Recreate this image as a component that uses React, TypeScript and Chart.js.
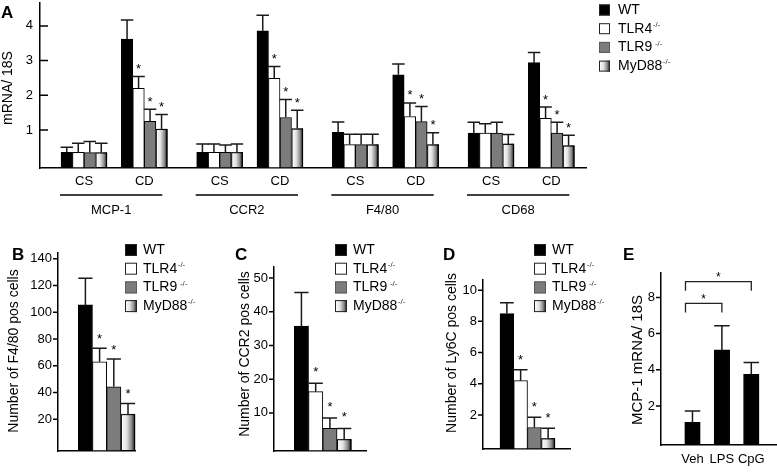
import React, { useEffect, useRef } from "react";
import { Chart, registerables } from "chart.js";

Chart.register(...registerables);

const PAGE_W = 777;
const PAGE_H = 472;
const FONT = "'Liberation Sans', Arial, Helvetica, sans-serif";

// ---------- shared series ----------
const seriesNames = ["WT", "TLR4", "TLR9", "MyD88"];
const seriesSup = ["", "-/-", " -/-", "-/-"];
const seriesFill = ["#000000", "#ffffff", "#7c7c7c", "gradient"];

// ---------- Panel A ----------
const groupsA = ["MCP-1", "CCR2", "F4/80", "CD68"];
const conditionsA = ["CS", "CD"];
const yTicksA = [1, 2, 3, 4];
// order: MCP-1 CS, MCP-1 CD, CCR2 CS, CCR2 CD, F4/80 CS, F4/80 CD, CD68 CS, CD68 CD
const wtA = [0.36, 3.62, 0.36, 3.86, 0.93, 2.59, 0.91, 2.94];
const wtErrA = [0.14, 0.55, 0.24, 0.45, 0.3, 0.31, 0.31, 0.29];
const tlr4A = [0.36, 2.2, 0.36, 2.49, 0.58, 1.39, 0.91, 1.34];
const tlr4ErrA = [0.26, 0.34, 0.24, 0.34, 0.3, 0.39, 0.27, 0.32];
const tlr9A = [0.35, 1.25, 0.36, 1.36, 0.58, 1.24, 0.91, 0.91];
const tlr9ErrA = [0.32, 0.35, 0.21, 0.52, 0.3, 0.44, 0.31, 0.31];
const myd88A = [0.35, 1.03, 0.36, 1.04, 0.58, 0.58, 0.6, 0.55];
const myd88ErrA = [0.27, 0.42, 0.24, 0.53, 0.3, 0.34, 0.27, 0.3];
const starsKoA = [false, true, false, true, false, true, false, true];
const noStarsA = [false, false, false, false, false, false, false, false];

// ---------- Panel B (F4/80 pos cells) ----------
const yTicksB = [20, 40, 60, 80, 100, 120, 140];
const valuesB = [105.5, 63, 44.3, 23.8];
const errorsB = [20, 10, 20.7, 8];
const starsB = [false, true, true, true];

// ---------- Panel C (CCR2 pos cells) ----------
const yTicksC = [10, 20, 30, 40, 50];
const valuesC = [35.8, 16.3, 5.4, 2.2];
const errorsC = [9.9, 2.5, 3.1, 3.2];
const starsC = [false, true, true, true];

// ---------- Panel D (Ly6C pos cells) ----------
const yTicksD = [2, 4, 6, 8, 10];
const valuesD = [8.5, 4.2, 1.2, 0.5];
const errorsD = [0.7, 0.7, 0.65, 0.65];
const starsD = [false, true, true, true];

// ---------- Panel E (MCP-1 mRNA) ----------
const categoriesE = ["Veh", "LPS", "CpG"];
const yTicksE = [2, 4, 6, 8];
const valuesE = [1.1, 5.1, 3.75];
const errorsE = [0.62, 1.33, 0.66];
const comparisonsE = [
  { from: 0, to: 1 },
  { from: 0, to: 2 },
];

type Series = { label: string; fill: string; values: number[]; errors: number[]; stars: boolean[] };
type Area = { left: number; top: number; right: number; bottom: number };
type PanelCfg = {
  letter: string;
  letterPos: [number, number];
  area: Area;
  xMin: number;
  xMax: number;
  xPos: number[];
  xLabels: string[] | null;
  xLabelPad: number;
  yMin: number;
  yMax: number;
  yTicks: number[];
  yLabelPad: number;
  tickDir: number;
  tickLen: number;
  title: string;
  titlePos: [number, number];
  titleSize: number;
  series: Series[];
  barThickness: number;
  capExtra: number;
  starGap: number;
  legend: { x: number; y: number; dy: number; box: number; gap: number } | null;
  groups?: { names: string[]; lineY: number; textY: number; padL: number; padR: number };
  brackets?: { from: number; to: number; level: number }[];
};

function fourSeries(vals: number[][], errs: number[][], stars: boolean[][]): Series[] {
  return seriesNames.map((n, i) => ({ label: n, fill: seriesFill[i], values: vals[i], errors: errs[i], stars: stars[i] }));
}

// category positions along the linear x axis of panel A (pairs CS/CD, wider gap between markers)
const posA = groupsA.flatMap((_, g) => conditionsA.map((__, c) => g * 2.25 + c));

const panels: PanelCfg[] = [
  {
    letter: "A",
    letterPos: [1, 17.5],
    area: { left: 40, top: 3, right: 586, bottom: 168 },
    xMin: -0.73,
    xMax: 8.325,
    xPos: posA,
    xLabels: groupsA.flatMap(() => conditionsA),
    xLabelPad: 6,
    yMin: -0.095,
    yMax: 4.66,
    yTicks: yTicksA,
    yLabelPad: 7,
    tickDir: 1,
    tickLen: 8,
    title: "mRNA/ 18S",
    titlePos: [8, 88],
    titleSize: 14,
    series: fourSeries(
      [wtA, tlr4A, tlr9A, myd88A],
      [wtErrA, tlr4ErrA, tlr9ErrA, myd88ErrA],
      [noStarsA, starsKoA, starsKoA, starsKoA]
    ),
    barThickness: 11.5,
    capExtra: 1,
    starGap: 10.5,
    legend: { x: 599, y: 10, dy: 18.7, box: 11, gap: 8 },
    groups: { names: groupsA, lineY: 195, textY: 210, padL: 24, padR: 18 },
  },
  {
    letter: "B",
    letterPos: [12, 260],
    area: { left: 58, top: 253, right: 135, bottom: 451 },
    xMin: -0.487,
    xMax: 0.283,
    xPos: [0],
    xLabels: null,
    xLabelPad: 6,
    yMin: -3.75,
    yMax: 144.3,
    yTicks: yTicksB,
    yLabelPad: 6,
    tickDir: -1,
    tickLen: 5,
    title: "Number of F4/80 pos cells",
    titlePos: [14.5, 351],
    titleSize: 14,
    series: fourSeries(
      valuesB.map((v) => [v]),
      errorsB.map((e) => [e]),
      starsB.map((s) => [s])
    ),
    barThickness: 14.2,
    capExtra: 0,
    starGap: 12,
    legend: { x: 125, y: 250, dy: 18.7, box: 12, gap: 6 },
  },
  {
    letter: "C",
    letterPos: [235, 260],
    area: { left: 274, top: 267, right: 366, bottom: 451 },
    xMin: -0.488,
    xMax: 0.432,
    xPos: [0],
    xLabels: null,
    xLabelPad: 6,
    yMin: -1.3,
    yMax: 53.3,
    yTicks: yTicksC,
    yLabelPad: 6,
    tickDir: -1,
    tickLen: 5,
    title: "Number of CCR2 pos cells",
    titlePos: [245, 354],
    titleSize: 14,
    series: fourSeries(
      valuesC.map((v) => [v]),
      errorsC.map((e) => [e]),
      starsC.map((s) => [s])
    ),
    barThickness: 14.25,
    capExtra: 0,
    starGap: 14,
    legend: { x: 335, y: 250, dy: 18.7, box: 12, gap: 6 },
  },
  {
    letter: "D",
    letterPos: [443, 260],
    area: { left: 483, top: 280, right: 570, bottom: 449 },
    xMin: -0.445,
    xMax: 0.425,
    xPos: [0],
    xLabels: null,
    xLabelPad: 6,
    yMin: -0.18,
    yMax: 10.65,
    yTicks: yTicksD,
    yLabelPad: 6,
    tickDir: -1,
    tickLen: 5,
    title: "Number of Ly6C pos cells",
    titlePos: [452, 353],
    titleSize: 14,
    series: fourSeries(
      valuesD.map((v) => [v]),
      errorsD.map((e) => [e]),
      starsD.map((s) => [s])
    ),
    barThickness: 13.75,
    capExtra: 0,
    starGap: 13,
    legend: { x: 534, y: 250, dy: 18.7, box: 12, gap: 6 },
  },
  {
    letter: "E",
    letterPos: [623, 260],
    area: { left: 661, top: 273, right: 776, bottom: 445 },
    xMin: -1.071,
    xMax: 2.84,
    xPos: [0, 1, 2],
    xLabels: categoriesE,
    xLabelPad: 7,
    yMin: -0.155,
    yMax: 9.35,
    yTicks: yTicksE,
    yLabelPad: 6,
    tickDir: -1,
    tickLen: 5,
    title: "MCP-1 mRNA/ 18S",
    titlePos: [638, 360],
    titleSize: 15,
    series: [{ label: "MCP-1", fill: "#000000", values: valuesE, errors: errorsE, stars: [false, false, false] }],
    barThickness: 15.5,
    capExtra: 0,
    starGap: 12,
    legend: null,
    brackets: [
      { ...comparisonsE[0], level: 7.67 },
      { ...comparisonsE[1], level: 8.87 },
    ],
  },
];

function myGradient(ctx: CanvasRenderingContext2D, l: number, r: number) {
  const g = ctx.createLinearGradient(l, 0, r, 0);
  g.addColorStop(0, "#ffffff");
  g.addColorStop(0.4, "#e4e4e4");
  g.addColorStop(0.75, "#8a8a8a");
  g.addColorStop(1, "#111111");
  return g;
}

function makePlugin(cfg: PanelCfg) {
  return {
    id: "decor" + cfg.letter,
    afterDatasetsDraw(chart: any) {
      const ctx: CanvasRenderingContext2D = chart.ctx;
      const ys = chart.scales.y;
      ctx.save();
      cfg.series.forEach((s, di) => {
        const meta = chart.getDatasetMeta(di);
        meta.data.forEach((el: any, i: number) => {
          const p = el.getProps(["x", "y", "base", "width"], true);
          const l = p.x - p.width / 2;
          const r = p.x + p.width / 2;
          const t = Math.min(p.y, p.base);
          const b = Math.max(p.y, p.base);
          if (s.fill === "gradient") {
            ctx.fillStyle = myGradient(ctx, l, r);
            ctx.fillRect(l, t, r - l, b - t);
            ctx.strokeStyle = "#000";
            ctx.lineWidth = 1;
            ctx.strokeRect(l + 0.5, t + 0.5, r - l - 1, b - t - 1);
          }
          // error bar (upper whisker)
          const top = ys.getPixelForValue(s.values[i] + s.errors[i]);
          const cap = (p.width + cfg.capExtra) / 2;
          ctx.strokeStyle = "#1a1a1a";
          ctx.lineWidth = 1.5;
          ctx.beginPath();
          ctx.moveTo(p.x, t);
          ctx.lineTo(p.x, top);
          ctx.moveTo(p.x - cap, top);
          ctx.lineTo(p.x + cap, top);
          ctx.stroke();
          if (s.stars[i]) {
            ctx.fillStyle = "#000";
            ctx.font = `13px ${FONT}`;
            ctx.textAlign = "center";
            ctx.textBaseline = "alphabetic";
            ctx.fillText("*", p.x, top - (cfg.starGap - 7));
          }
        });
      });
      ctx.restore();
    },
    afterDraw(chart: any) {
      const ctx: CanvasRenderingContext2D = chart.ctx;
      const ys = chart.scales.y;
      const xs = chart.scales.x;
      const ca = chart.chartArea;
      ctx.save();
      // tick marks
      ctx.strokeStyle = "#000";
      ctx.lineWidth = 1.5;
      ctx.beginPath();
      cfg.yTicks.forEach((v) => {
        const py = ys.getPixelForValue(v);
        ctx.moveTo(ca.left, py);
        ctx.lineTo(ca.left + cfg.tickDir * cfg.tickLen, py);
      });
      ctx.stroke();
      // panel letter
      ctx.fillStyle = "#000";
      ctx.font = `bold 17px ${FONT}`;
      ctx.textAlign = "left";
      ctx.textBaseline = "alphabetic";
      ctx.fillText(cfg.letter, cfg.letterPos[0], cfg.letterPos[1]);
      // y title
      ctx.save();
      ctx.translate(cfg.titlePos[0], cfg.titlePos[1]);
      ctx.rotate(-Math.PI / 2);
      ctx.font = `${cfg.titleSize}px ${FONT}`;
      ctx.textAlign = "center";
      ctx.textBaseline = "middle";
      ctx.fillText(cfg.title, 0, 0);
      ctx.restore();
      // legend
      if (cfg.legend) {
        const lg = cfg.legend;
        seriesNames.forEach((name, i) => {
          const cy = lg.y + i * lg.dy;
          const bx = lg.x;
          const by = cy - lg.box / 2;
          const f = seriesFill[i];
          ctx.fillStyle = f === "gradient" ? myGradient(ctx, bx, bx + lg.box) : f;
          ctx.fillRect(bx, by, lg.box, lg.box);
          ctx.strokeStyle = i === 2 ? "#5a5a5a" : "#222";
          ctx.lineWidth = 1;
          ctx.strokeRect(bx + 0.5, by + 0.5, lg.box - 1, lg.box - 1);
          ctx.fillStyle = "#000";
          ctx.font = `14px ${FONT}`;
          ctx.textAlign = "left";
          ctx.textBaseline = "middle";
          const tx = bx + lg.box + lg.gap;
          ctx.fillText(name, tx, cy);
          const w = ctx.measureText(name).width;
          ctx.font = `8px ${FONT}`;
          ctx.fillStyle = "#333";
          ctx.fillText(seriesSup[i], tx + w + 0.5, cy - 4);
        });
      }
      // group underlines and names (panel A)
      if (cfg.groups) {
        const gr = cfg.groups;
        gr.names.forEach((name, gi) => {
          const x0 = xs.getPixelForValue(cfg.xPos[gi * 2]) - gr.padL;
          const x1 = xs.getPixelForValue(cfg.xPos[gi * 2 + 1]) + gr.padR;
          ctx.strokeStyle = "#000";
          ctx.lineWidth = 1.3;
          ctx.beginPath();
          ctx.moveTo(x0, gr.lineY);
          ctx.lineTo(x1, gr.lineY);
          ctx.stroke();
          ctx.fillStyle = "#000";
          ctx.font = `13px ${FONT}`;
          ctx.textAlign = "center";
          ctx.textBaseline = "middle";
          ctx.fillText(name, (x0 + x1) / 2, gr.textY);
        });
      }
      // significance brackets (panel E)
      if (cfg.brackets) {
        cfg.brackets.forEach((br) => {
          const x0 = xs.getPixelForValue(cfg.xPos[br.from]) - 7;
          const x1 = xs.getPixelForValue(cfg.xPos[br.to]);
          const y = ys.getPixelForValue(br.level);
          ctx.strokeStyle = "#222";
          ctx.lineWidth = 1.3;
          ctx.beginPath();
          ctx.moveTo(x0, y + 9);
          ctx.lineTo(x0, y);
          ctx.lineTo(x1, y);
          ctx.lineTo(x1, y + 9);
          ctx.stroke();
          ctx.fillStyle = "#000";
          ctx.font = `12px ${FONT}`;
          ctx.textAlign = "center";
          ctx.textBaseline = "alphabetic";
          ctx.fillText("*", (x0 + x1) / 2, y - 0.5);
        });
      }
      ctx.restore();
    },
  };
}

function buildChart(canvas: HTMLCanvasElement, cfg: PanelCfg) {
  const a = cfg.area;
  const datasets = cfg.series.map((s) => ({
    label: s.label,
    data: cfg.xPos.map((x, i) => ({ x, y: s.values[i] })),
    backgroundColor: s.fill === "gradient" ? "#ffffff" : s.fill,
    borderColor: "#000000",
    borderWidth: 1,
    borderSkipped: false as const,
    barThickness: cfg.barThickness,
    base: cfg.yMin,
  }));
  return new Chart(canvas, {
    type: "bar",
    data: { datasets },
    options: {
      responsive: false,
      animation: false,
      devicePixelRatio: 1,
      events: [],
      layout: { padding: { left: 0, top: a.top, right: PAGE_W - a.right, bottom: 0 } },
      plugins: { legend: { display: false }, tooltip: { enabled: false }, title: { display: false } },
      scales: {
        x: {
          type: "linear",
          offset: false,
          min: cfg.xMin,
          max: cfg.xMax,
          grid: { display: false, drawTicks: false },
          border: { display: true, color: "#000", width: 1.5 },
          afterBuildTicks: (s: any) => {
            s.ticks = cfg.xPos.map((v) => ({ value: v }));
          },
          afterFit: (s: any) => {
            s.height = PAGE_H - a.bottom;
            s.paddingLeft = 0;
            s.paddingRight = 0;
          },
          ticks: {
            display: !!cfg.xLabels,
            autoSkip: false,
            maxRotation: 0,
            padding: cfg.xLabelPad,
            color: "#000",
            font: { size: 13, family: FONT },
            callback: (_v: any, i: number) => (cfg.xLabels ? cfg.xLabels[i] : ""),
          },
        },
        y: {
          type: "linear",
          min: cfg.yMin,
          max: cfg.yMax,
          grid: { display: false, drawTicks: false },
          border: { display: true, color: "#000", width: 1.5 },
          afterBuildTicks: (s: any) => {
            s.ticks = cfg.yTicks.map((v) => ({ value: v }));
          },
          afterFit: (s: any) => {
            s.width = a.left;
            s.paddingTop = 0;
            s.paddingBottom = 0;
          },
          ticks: {
            padding: cfg.yLabelPad,
            color: "#000",
            font: { size: 13, family: FONT },
            callback: (v: any) => String(v),
          },
        },
      },
    } as any,
    plugins: [makePlugin(cfg)],
  });
}

export default function App() {
  const refs = useRef<(HTMLCanvasElement | null)[]>([]);
  useEffect(() => {
    Chart.defaults.font.family = FONT;
    Chart.defaults.color = "#000";
    const charts = panels.map((cfg, i) => buildChart(refs.current[i] as HTMLCanvasElement, cfg));
    return () => charts.forEach((c) => c.destroy());
  }, []);
  return (
    <div style={{ position: "absolute", left: 0, top: 0, width: PAGE_W, height: PAGE_H, background: "#fff" }}>
      {panels.map((p, i) => (
        <canvas
          key={p.letter}
          ref={(el) => {
            refs.current[i] = el;
          }}
          width={PAGE_W}
          height={PAGE_H}
          style={{ position: "absolute", left: 0, top: 0, width: PAGE_W, height: PAGE_H }}
        />
      ))}
    </div>
  );
}
